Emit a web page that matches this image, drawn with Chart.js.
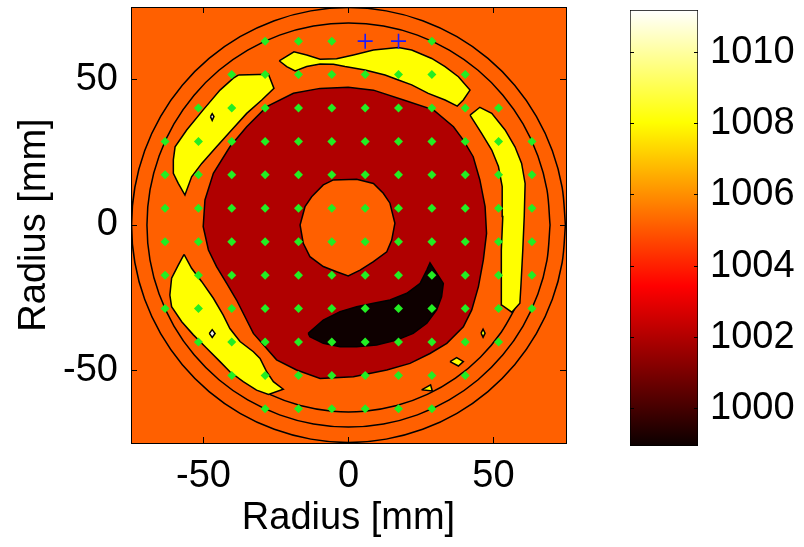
<!DOCTYPE html>
<html lang="en">
<head>
<meta charset="UTF-8">
<title>Radius map</title>
<style>
    body {
        margin: 0;
        background: #fff;
    }
    #wrap {
        position: relative;
        width: 804px;
        height: 547px;
    }
    #mapBox {
        position: absolute;
        left: 0;
        top: 0;
        width: 600px;
        height: 547px;
    }
    #barBox {
        position: absolute;
        left: 600px;
        top: 0;
        width: 204px;
        height: 547px;
    }
</style>
<script src="https://cdn.jsdelivr.net/npm/chart.js"></script>
</head>
<body>
<div id="wrap">
    <div id="mapBox"><canvas id="mapChart" width="600" height="547"></canvas></div>
    <div id="barBox"><canvas id="barChart" width="204" height="547"></canvas></div>
</div>

<script>
    // axis ticks
    const xTicks = [-50, 0, 50];
    const yTicks = [-50, 0, 50];
    const colorTicks = [1000, 1002, 1004, 1006, 1008, 1010];
    const colorMin = 998.96;
    const colorMax = 1011.18;
    const axisLimit = [-75, 75];

    // measuring grid positions (mm); rows: [y, first column, last column]
    const gridPos = [-63.25, -51.75, -40.25, -28.75, -17.25, -5.75, 5.75, 17.25, 28.75, 40.25, 51.75, 63.25];
    const gridRows = [
        [63.25, 3, 8], [51.75, 2, 9], [40.25, 1, 10], [28.75, 0, 11],
        [17.25, 0, 11], [5.75, 0, 11], [-5.75, 0, 11], [-17.25, 0, 11],
        [-28.75, 0, 11], [-40.25, 1, 10], [-51.75, 2, 9], [-63.25, 3, 8]
    ];
    // reference marks
    const refMarks = [[5.75, 63.25], [17.25, 63.25]];

    // edge contour rings: radius (mm) and the angles they run through
    const ringAngles = [0, 10, 20, 30, 40, 50, 60, 70, 80, 90, 100, 110, 120, 130, 140, 150, 160, 170, 180,
        190, 200, 210, 220, 230, 240, 250, 260, 270, 280, 290, 300, 310, 320, 330, 340, 350, 360];
    const ringRadii = [74.8, 69.5];
    const arcAngles = [205, 215, 225, 235, 245, 255, 265, 275, 285, 295, 305, 315, 325, 335];
    const arcRadius = 64.3;

    // contour bands, outlines in mm
    const darkBand = [
        [-9.8, 47.0], [-0.1, 47.4], [8.6, 46.4], [19.0, 43.0], [29.3, 39.6], [36.2, 33.8], [39.6, 29.2],
        [43.0, 23.5], [45.3, 15.5], [47.1, 6.3], [47.6, -2.9], [46.5, -12.0], [44.8, -21.2], [42.5, -29.2],
        [39.6, -35.0], [33.9, -40.7], [28.1, -44.2], [21.2, -47.6], [13.2, -49.9], [1.7, -52.2],
        [-9.8, -52.8], [-17.9, -49.9], [-24.8, -46.4], [-32.8, -37.3], [-38.6, -25.8], [-42.0, -20.1],
        [-45.5, -14.3], [-48.3, -8.6], [-50.1, -0.6], [-49.5, 8.6], [-46.6, 17.8], [-40.9, 26.9],
        [-35.1, 33.8], [-28.2, 40.7], [-19.0, 45.3]
    ];
    const centerSpot = [
        [-5.2, 15.5], [2.8, 15.7], [8.6, 14.3], [12.0, 10.9], [14.3, 7.5], [16.0, 0.6], [14.9, -5.2],
        [13.2, -9.2], [8.6, -12.6], [4.0, -15.5], [-0.1, -17.5], [-4.1, -16.1], [-8.7, -14.3],
        [-13.3, -10.9], [-15.6, -6.3], [-16.7, 0], [-15.0, 6.3], [-12.7, 9.7], [-8.7, 13.8]
    ];
    const lowCrescent = [
        [-13.9, -37.3], [-8.7, -32.7], [-2.9, -29.8], [2.8, -28.1], [8.6, -26.9], [14.3, -25.8],
        [20.1, -23.5], [24.7, -20.1], [27.0, -15.5], [28.1, -13.0], [30.4, -16.6], [32.7, -20.1],
        [32.1, -24.7], [30.4, -29.2], [27.0, -33.8], [22.3, -37.3], [16.6, -39.6], [9.7, -41.3],
        [2.8, -41.9], [-2.9, -41.9], [-8.7, -40.7], [-13.3, -38.4]
    ];
    const highUpperLeft = [
        [-38.0, 51.6], [-27.6, 51.9], [-25.7, 47.0], [-29.9, 43.0], [-35.1, 38.4], [-40.3, 32.7],
        [-45.5, 26.9], [-50.6, 21.2], [-54.1, 16.6], [-56.4, 10.3], [-58.7, 14.3], [-60.4, 17.8],
        [-60.4, 22.4], [-59.8, 26.9], [-55.8, 32.7], [-50.1, 39.6], [-44.3, 46.4], [-39.7, 50.5]
    ];
    const highTop = [
        [-23.9, 56.5], [-18.8, 59.6], [-14.4, 58.5], [-9.8, 57.0], [-4.1, 57.2], [1.7, 58.5],
        [8.6, 60.2], [17.2, 61.1], [21.8, 60.2], [28.7, 57.3], [33.3, 54.5], [37.9, 51.0],
        [41.9, 46.4], [39.6, 43.0], [37.5, 40.9], [33.3, 43.0], [27.5, 45.3], [21.8, 48.2],
        [17.2, 49.9], [12.6, 51.6], [5.7, 53.3], [-1.2, 54.5], [-5.2, 55.3], [-9.8, 55.4],
        [-14.4, 54.5], [-18.4, 53.0], [-21.3, 54.5]
    ];
    const highRight = [
        [41.9, 37.8], [45.3, 40.5], [49.4, 38.4], [54.0, 32.7], [57.4, 26.9], [59.7, 21.2],
        [60.9, 14.3], [60.6, 2.9], [60.1, -8.6], [59.5, -20.1], [59.1, -26.9], [56.3, -30.0],
        [52.8, -27.5], [52.6, -20.1], [52.8, -8.6], [53.2, 2.9], [53.0, 13.2], [51.7, 20.1],
        [49.4, 25.8], [45.9, 31.5]
    ];
    const highLowerLeft = [
        [-56.7, -10.1], [-54.1, -14.9], [-50.6, -19.5], [-46.6, -25.2], [-43.2, -31.0], [-40.9, -35.6],
        [-37.4, -40.1], [-32.8, -43.6], [-30.5, -45.9], [-28.2, -50.5], [-25.9, -53.9], [-22.5, -56.5],
        [-27.6, -58.3], [-31.7, -56.8], [-36.3, -53.9], [-40.9, -50.5], [-44.3, -47.0], [-48.9, -42.4],
        [-53.5, -37.8], [-57.5, -33.3], [-61.0, -28.1], [-61.6, -24.1], [-61.0, -18.3], [-58.7, -13.8]
    ];
    const highSpecks = [
        [[45.7, -37.2], [46.4, -35.8], [47.1, -37.2], [46.4, -38.6]],
        [[35.0, -47.0], [37.3, -45.6], [39.6, -47.0], [37.9, -48.5]],
        [[25.2, -56.7], [28.3, -55.0], [28.9, -57.1]]
    ];
    const peakSpecks = [
        [[-47.6, 37.3], [-47.0, 38.3], [-46.4, 37.3], [-47.0, 36.0]],
        [[-48.0, -37.3], [-47.0, -36.0], [-46.0, -37.3], [-47.0, -38.7]]
    ];

    const FONT = { family: '"Liberation Sans", Arial, Helvetica, sans-serif', size: 38 };
    const BAND = {
        low: '#0e0000',
        dark: '#b00000',
        base: '#ff6000',
        high: '#ffff00',
        peak: '#f4f4ea'
    };
    const EDGE_WIDTH = 1.5;

    const toPts = arr => arr.map(([x, y]) => ({ x, y }));
    const closed = arr => toPts([...arr, arr[0]]);
    const polar = (r, deg) => ({ x: r * Math.cos(deg * Math.PI / 180), y: r * Math.sin(deg * Math.PI / 180) });

    function band(outline, color, edge = '#000') {
        return {
            data: closed(outline),
            showLine: true,
            fill: 'shape',
            backgroundColor: color,
            borderColor: edge,
            borderWidth: EDGE_WIDTH,
            pointRadius: 0
        };
    }

    function contourLine(pts) {
        return {
            data: pts,
            showLine: true,
            fill: false,
            borderColor: '#000',
            borderWidth: EDGE_WIDTH,
            tension: 0.33,
            pointRadius: 0
        };
    }

    const gridPoints = [];
    gridRows.forEach(([y, first, last]) => {
        for (let i = first; i <= last; i++) {
            const x = gridPos[i];
            if (!refMarks.some(([mx, my]) => mx === x && my === y)) gridPoints.push({ x, y });
        }
    });

    const lo = axisLimit[0], hi = axisLimit[1];
    const layers = [
        band([[lo, lo], [lo, hi], [hi, hi], [hi, lo]], BAND.base, 'rgba(0,0,0,0)'),
        ...ringRadii.map(r => contourLine(ringAngles.map(a => polar(r, a)))),
        contourLine(arcAngles.map(a => polar(arcRadius, a))),
        band(highUpperLeft, BAND.high),
        band(highTop, BAND.high),
        band(highRight, BAND.high),
        band(highLowerLeft, BAND.high),
        ...highSpecks.map(s => band(s, BAND.high)),
        band(darkBand, BAND.dark),
        band(centerSpot, BAND.base),
        band(lowCrescent, BAND.low),
        ...peakSpecks.map(s => band(s, BAND.peak)),
        {
            data: gridPoints,
            pointStyle: 'rectRot',
            pointRadius: 4.5,
            backgroundColor: '#22ee22',
            borderColor: '#22ee22',
            borderWidth: 0
        },
        {
            data: toPts(refMarks),
            pointStyle: 'cross',
            pointRadius: 7.5,
            borderColor: '#1a1aff',
            borderWidth: 1.6
        }
    ];
    // first layer at the bottom
    layers.forEach((ds, i) => { ds.order = layers.length - i; });

    const fixTicks = list => scale => { scale.ticks = list.map(v => ({ value: v })); };
    // fixed box size, and no extra room for the end labels
    const fitTo = (dim, size) => s => {
        s[dim] = size;
        s.paddingTop = s.paddingBottom = s.paddingLeft = s.paddingRight = 0;
    };
    const plain = v => String(v);
    const frameGrid = { drawOnChartArea: false, drawTicks: true, tickLength: -6, color: '#000', lineWidth: 1, z: 1 };
    const frameBorder = { display: true, color: '#000', width: 1, z: 2 };

    new Chart(document.getElementById('mapChart'), {
        type: 'scatter',
        data: { datasets: layers },
        options: {
            responsive: false,
            animation: false,
            devicePixelRatio: 1,
            events: [],
            layout: { autoPadding: false, padding: { left: 0, top: 7, right: 34, bottom: 0 } },
            plugins: { legend: { display: false }, tooltip: { enabled: false } },
            scales: {
                x: {
                    type: 'linear', position: 'bottom', min: lo, max: hi,
                    afterBuildTicks: fixTicks(xTicks),
                    ticks: { font: FONT, color: '#000', padding: 17, maxRotation: 0, autoSkip: false, callback: plain },
                    grid: frameGrid,
                    border: frameBorder,
                    title: { display: true, text: 'Radius [mm]', font: FONT, color: '#000', padding: { top: 0, bottom: 6 } },
                    afterFit: fitTo('height', 104)
                },
                y: {
                    type: 'linear', position: 'left', min: lo, max: hi,
                    afterBuildTicks: fixTicks(yTicks),
                    ticks: { font: FONT, color: '#000', padding: 19, autoSkip: false, callback: plain },
                    grid: frameGrid,
                    border: frameBorder,
                    title: { display: true, text: 'Radius [mm]', font: FONT, color: '#000', padding: { top: 12, bottom: 0 } },
                    afterFit: fitTo('width', 131)
                },
                xTop: {
                    type: 'linear', position: 'top', min: lo, max: hi,
                    afterBuildTicks: fixTicks(xTicks),
                    ticks: { display: false },
                    grid: frameGrid,
                    border: frameBorder,
                    afterFit: fitTo('height', 0)
                },
                yRight: {
                    type: 'linear', position: 'right', min: lo, max: hi,
                    afterBuildTicks: fixTicks(yTicks),
                    ticks: { display: false },
                    grid: frameGrid,
                    border: frameBorder,
                    afterFit: fitTo('width', 0)
                }
            }
        }
    });

    // hot colour map for the colour bar
    function hotGradient(chart) {
        const area = chart.chartArea;
        if (!area) return '#000';
        const g = chart.ctx.createLinearGradient(0, area.bottom, 0, area.top);
        g.addColorStop(0, 'rgb(11,0,0)');
        g.addColorStop(0.367, 'rgb(255,0,0)');
        g.addColorStop(0.742, 'rgb(255,255,0)');
        g.addColorStop(1, 'rgb(255,255,255)');
        return g;
    }

    const barGrid = { drawOnChartArea: false, drawTicks: true, tickLength: -4, color: '#000', lineWidth: 1, z: 1 };

    new Chart(document.getElementById('barChart'), {
        type: 'bar',
        data: {
            labels: [''],
            datasets: [{
                data: [[colorMin, colorMax]],
                backgroundColor: ctx => hotGradient(ctx.chart),
                borderColor: '#000',
                borderWidth: 1,
                borderSkipped: false,
                barPercentage: 1,
                categoryPercentage: 1
            }]
        },
        options: {
            responsive: false,
            animation: false,
            devicePixelRatio: 1,
            events: [],
            layout: { autoPadding: false, padding: { left: 30, top: 10, right: 0, bottom: 101 } },
            plugins: { legend: { display: false }, tooltip: { enabled: false } },
            scales: {
                x: { display: false },
                y: {
                    position: 'right', min: colorMin, max: colorMax,
                    afterBuildTicks: fixTicks(colorTicks),
                    ticks: { font: FONT, color: '#000', padding: 16, autoSkip: false, callback: plain },
                    grid: barGrid,
                    border: { display: false },
                    afterFit: fitTo('width', 106)
                },
                yLeft: {
                    position: 'left', min: colorMin, max: colorMax,
                    afterBuildTicks: fixTicks(colorTicks),
                    ticks: { display: false },
                    grid: barGrid,
                    border: { display: false },
                    afterFit: fitTo('width', 0)
                }
            }
        }
    });
</script>
</body>
</html>
